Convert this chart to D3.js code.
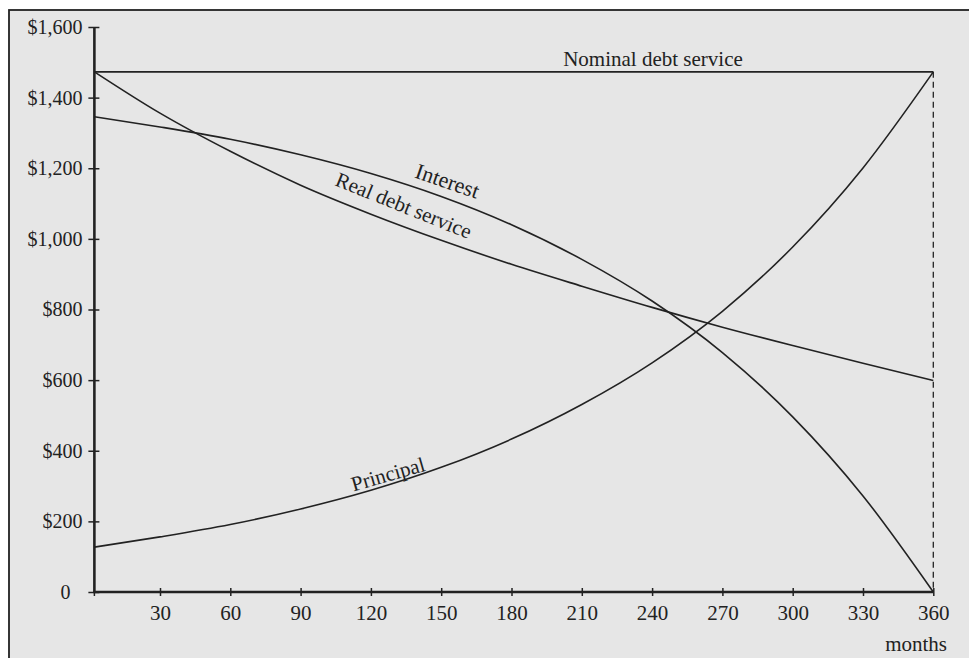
<!DOCTYPE html>
<html>
<head>
<meta charset="utf-8">
<script src="https://cdn.jsdelivr.net/npm/d3@7"></script>
<style>
  html, body { margin: 0; padding: 0; background: #ffffff; }
  svg { display: block; }
  text { font-family: "Liberation Serif", "Times New Roman", serif; fill: #222; }
</style>
</head>
<body>
<svg id="chart" width="969" height="658"></svg>
<script>
// ---- data ----
const months    = [2, 30, 60, 90, 120, 150, 180, 210, 240, 270, 300, 330, 360];
const nominal   = [1473, 1473, 1473, 1473, 1473, 1473, 1473, 1473, 1473, 1473, 1473, 1473, 1473];
const realDebt  = [1473, 1356, 1248, 1152, 1070, 996, 928, 866, 806, 750, 698, 648, 599];
const interest  = [1346, 1317, 1282, 1238, 1185, 1120, 1040, 942, 824, 678, 496, 272, 0];
const principal = [127, 156, 191, 235, 288, 353, 433, 531, 649, 795, 977, 1201, 1473];
const xTicks = [30, 60, 90, 120, 150, 180, 210, 240, 270, 300, 330, 360];
const yTicks = [0, 200, 400, 600, 800, 1000, 1200, 1400, 1600];

const svg = d3.select("#chart");
const ink = "#222";

// panel
svg.append("rect")
  .attr("x", 9).attr("y", 10).attr("width", 1000).attr("height", 700)
  .attr("fill", "#e6e6e6").attr("stroke", ink).attr("stroke-width", 1.8);

const x = d3.scaleLinear().domain([0, 360]).range([89.7, 933.3]);
const y = d3.scaleLinear().domain([0, 1600]).range([592, 27]);
const x0 = x(months[0]);

// y axis
const yAxis = svg.append("g").attr("transform", `translate(${x0},0)`)
  .call(d3.axisLeft(y).tickValues(yTicks).tickSize(6).tickPadding(6)
    .tickFormat(d => d === 0 ? "0" : d3.format("$,")(d)));
yAxis.select(".domain").remove();
yAxis.selectAll(".tick line").attr("x1", -6).attr("x2", 5).attr("stroke", ink).attr("stroke-width", 1.5);
yAxis.selectAll(".tick text").attr("font-size", 20).attr("font-family", "Liberation Serif").attr("fill", ink)
  .attr("dx", d => d === 0 ? -12 : 0);
svg.append("line").attr("x1", x0).attr("x2", x0).attr("y1", y(1600)).attr("y2", y(0) + 1)
  .attr("stroke", ink).attr("stroke-width", 2.6);

// x axis
const xAxis = svg.append("g").attr("transform", `translate(0,${y(0)})`)
  .call(d3.axisBottom(x).tickValues(xTicks).tickSize(4).tickPadding(10));
xAxis.select(".domain").remove();
xAxis.selectAll(".tick line").attr("y1", -4).attr("y2", 4).attr("stroke", ink).attr("stroke-width", 1.5);
xAxis.selectAll(".tick text").attr("font-size", 21).attr("font-family", "Liberation Serif").attr("fill", ink)
  .attr("y", 28).attr("dy", 0);
svg.append("line").attr("x1", x0 - 1).attr("x2", x(360)).attr("y1", y(0)).attr("y2", y(0))
  .attr("stroke", ink).attr("stroke-width", 2.6);
svg.append("line").attr("x1", x0).attr("x2", x0).attr("y1", y(0)).attr("y2", y(0) + 4)
  .attr("stroke", ink).attr("stroke-width", 1.5);

svg.append("text").attr("x", 947).attr("y", 651).attr("text-anchor", "end")
  .attr("font-size", 21).text("months");

// dashed vertical at 360
svg.append("line").attr("x1", x(360)).attr("x2", x(360)).attr("y1", y(nominal[12])).attr("y2", y(0))
  .attr("stroke", ink).attr("stroke-width", 1.3).attr("stroke-dasharray", "6,4");

// series lines
const line = d3.line().x((d, i) => x(months[i])).y(d => y(d)).curve(d3.curveMonotoneX);
[nominal, realDebt, interest, principal].forEach(s => {
  svg.append("path").datum(s).attr("d", line)
    .attr("fill", "none").attr("stroke", ink).attr("stroke-width", 1.6);
});

// labels
svg.append("text").attr("x", 653).attr("y", 66).attr("text-anchor", "middle")
  .attr("font-size", 21).text("Nominal debt service");
svg.append("text").attr("text-anchor", "middle").attr("font-size", 22)
  .attr("transform", "translate(445,188) rotate(19)").text("Interest");
svg.append("text").attr("text-anchor", "middle").attr("font-size", 21)
  .attr("transform", "translate(401,212) rotate(22)").text("Real debt service");
svg.append("text").attr("text-anchor", "middle").attr("font-size", 21)
  .attr("transform", "translate(390,481) rotate(-16)").text("Principal");
</script>
</body>
</html>
